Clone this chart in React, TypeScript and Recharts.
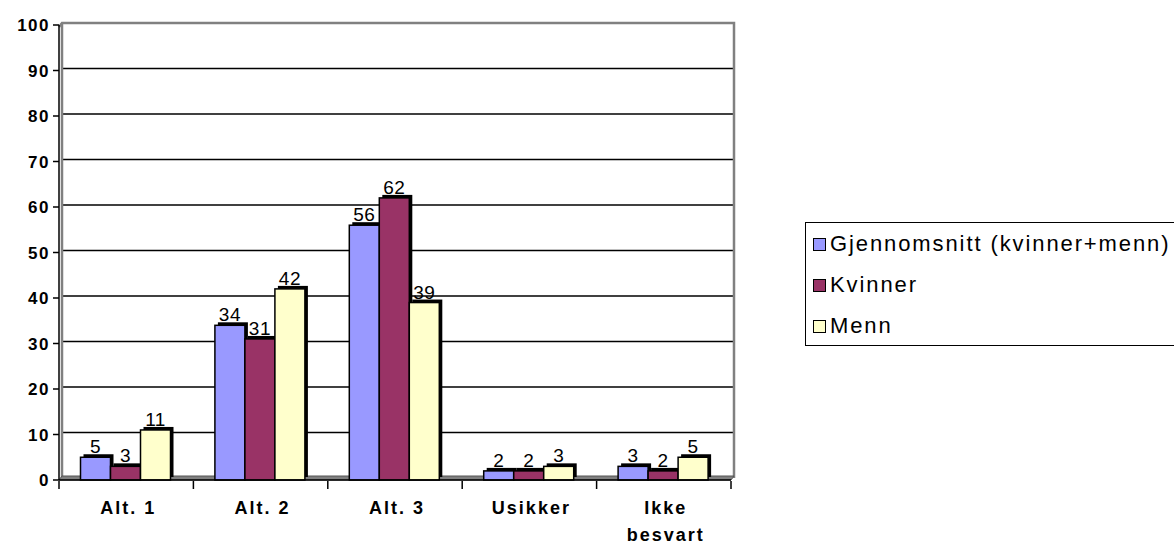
import React from 'react';
import { BarChart, Bar, XAxis, YAxis, LabelList } from 'recharts';

const categories = ['Alt. 1', 'Alt. 2', 'Alt. 3', 'Usikker', 'Ikke besvart'];
const avgValues = [5, 34, 56, 2, 3];
const womenValues = [3, 31, 62, 2, 2];
const menValues = [11, 42, 39, 3, 5];
const yTicks = [0, 10, 20, 30, 40, 50, 60, 70, 80, 90, 100];
const seriesNames = ['Gjennomsnitt (kvinner+menn)', 'Kvinner', 'Menn'];
const seriesColors = ['#9999FF', '#993366', '#FFFFCC'];

const data = categories.map((name, i) => ({
  name,
  avg: avgValues[i],
  women: womenValues[i],
  men: menValues[i],
}));

const W = 1174;
const H = 544;
const LEFT = 59;
const RIGHT = 731;
const TOP = 25;
const BOTTOM = 480;
const DEPTH = 3;
const FONT = 'Arial, "Liberation Sans", sans-serif';

const yOf = (v: number) => BOTTOM - (v / 100) * (BOTTOM - TOP);

// back walls, floor and gridlines of the pseudo-3D plot
const Walls = () => (
  <g>
    {yTicks.slice(1, -1).map((t) => (
      <line key={t} x1={LEFT + DEPTH} x2={RIGHT + DEPTH} y1={yOf(t) - 2} y2={yOf(t) - 2} stroke="#000" strokeWidth={1.5} />
    ))}
    <polyline
      points={`${LEFT},${TOP + 2} ${LEFT + DEPTH},${TOP - 2} ${RIGHT + DEPTH},${TOP - 2} ${RIGHT + DEPTH},${BOTTOM - 2}`}
      fill="none" stroke="#808080" strokeWidth={2.5}
    />
    <line x1={LEFT + DEPTH} x2={LEFT + DEPTH} y1={TOP - 2} y2={BOTTOM - 2} stroke="#808080" strokeWidth={2.5} />
    <polygon
      points={`${LEFT},${BOTTOM} ${LEFT + DEPTH},${BOTTOM - 4} ${RIGHT + DEPTH},${BOTTOM - 4} ${RIGHT},${BOTTOM}`}
      fill="#808080" stroke="#555" strokeWidth={1}
    />
  </g>
);

const Bar3D = (props: any) => {
  const { x, y, width, height, fill } = props;
  if (height == null || width == null) return null;
  return (
    <g>
      <rect x={x + DEPTH} y={y - DEPTH} width={width} height={height} fill="#000" />
      <rect x={x} y={y} width={width} height={height} fill={fill} stroke="#000" strokeWidth={1.5} />
    </g>
  );
};

const band = (RIGHT - LEFT) / categories.length;

const XTick = (props: any) => {
  const { x, payload, index } = props;
  const label: string = payload.value;
  const lines = label.includes(' ') && label.length > 7 ? label.split(' ') : [label];
  return (
    <g>
      <line x1={x - band / 2} x2={x - band / 2} y1={BOTTOM + 1} y2={BOTTOM + 9} stroke="#000" strokeWidth={1.5} />
      {index === categories.length - 1 && (
        <line x1={x + band / 2} x2={x + band / 2} y1={BOTTOM + 1} y2={BOTTOM + 9} stroke="#000" strokeWidth={1.5} />
      )}
      {lines.map((l, i) => (
        <text key={i} x={x + 2} y={BOTTOM + 34 + i * 27} textAnchor="middle" fontFamily={FONT} fontWeight="bold"
          fontSize={18} letterSpacing={2} fill="#000">
          {l}
        </text>
      ))}
    </g>
  );
};

const YTick = (props: any) => {
  const { y, payload } = props;
  return (
    <text x={LEFT - 9} y={y + 6} textAnchor="end" fontFamily={FONT} fontWeight="bold" fontSize={17}
      letterSpacing={1.5} fill="#000">
      {payload.value}
    </text>
  );
};

const labelStyle = { fontFamily: FONT, fontSize: 19, fill: '#000', letterSpacing: 0.5 };

export default function App() {
  const keys = ['avg', 'women', 'men'];
  return (
    <div style={{ position: 'absolute', left: 0, top: 0, width: W, height: H, background: '#fff' }}>
      <BarChart width={W} height={H} data={data} margin={{ top: TOP, right: W - RIGHT, left: 0, bottom: 0 }}
        barCategoryGap="16%" barGap={0}>
        <Walls />
        <XAxis dataKey="name" height={H - BOTTOM} axisLine={{ stroke: '#000', strokeWidth: 1.5 }} tickLine={false}
          tick={<XTick />} interval={0} />
        <YAxis width={LEFT} domain={[0, 100]} ticks={yTicks} interval={0}
          axisLine={{ stroke: '#000', strokeWidth: 1.5 }} tickLine={{ stroke: '#000', strokeWidth: 1.5 }}
          tickSize={6} tick={<YTick />} />
        {keys.map((k, i) => (
          <Bar key={k} dataKey={k} name={seriesNames[i]} fill={seriesColors[i]} shape={<Bar3D />}
            isAnimationActive={false}>
            <LabelList dataKey={k} position="top" offset={4} style={labelStyle} />
          </Bar>
        ))}
      </BarChart>
      <div style={{
        position: 'absolute', left: 805, top: 222, width: 400, height: 124,
        border: '1.5px solid #000', boxSizing: 'border-box', background: '#fff',
      }}>
        {seriesNames.map((n, i) => (
          <div key={n} style={{
            position: 'absolute', left: 7, top: 8 + i * 41, height: 26, display: 'flex', alignItems: 'center',
            fontFamily: FONT, fontSize: 22, letterSpacing: 1.9, whiteSpace: 'nowrap', color: '#000',
          }}>
            <span style={{
              display: 'inline-block', width: 11, height: 11, background: seriesColors[i],
              border: '1.5px solid #000', marginRight: 4,
            }} />
            {n}
          </div>
        ))}
      </div>
    </div>
  );
}
